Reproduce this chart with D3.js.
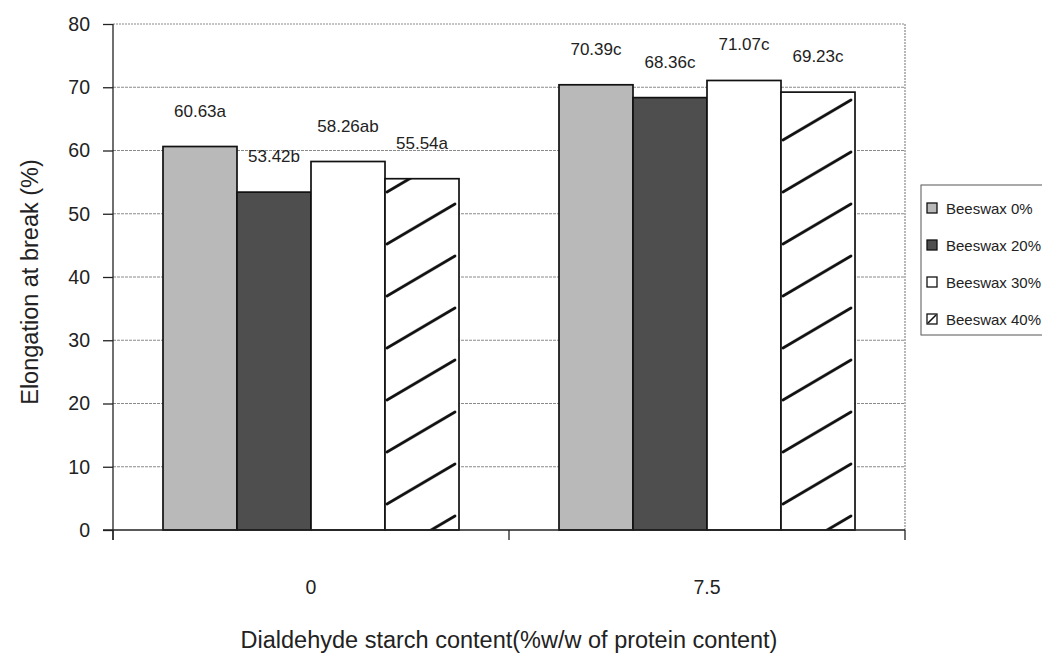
<!DOCTYPE html>
<meta charset="utf-8">
<script src="https://d3js.org/d3.v7.min.js"></script>
<style>
  body { margin: 0; background: #fff; }
  text { font-family: Arial, "Liberation Sans", sans-serif; fill: #222; }
</style>
<div id="chart"></div>
<script>

// data
var categories = ["0", "7.5"];
var series = ["Beeswax 0%", "Beeswax 20%", "Beeswax 30%", "Beeswax 40%"];
var values = [
  [60.63, 53.42, 58.26, 55.54],
  [70.39, 68.36, 71.07, 69.23]
];
var letters = [
  ["a", "b", "ab", "a"],
  ["c", "c", "c", "c"]
];
var yTicks = [0, 10, 20, 30, 40, 50, 60, 70, 80];

var margin = {top: 24, right: 137, bottom: 129, left: 113},
    width = 1042 - margin.left - margin.right,
    height = 659 - margin.top - margin.bottom;

var svg = d3.select("#chart")
  .append("svg")
    .attr("width", 1042)
    .attr("height", 659);

var fills = ["#b9b9b9", "#4e4e4e", "#ffffff", "url(#hatch)"];

var defs = svg.append("defs");

var g = svg.append("g")
    .attr("transform", "translate(" + margin.left + "," + margin.top + ")");

// scales
var x0 = d3.scaleBand()
    .domain(categories)
    .range([0, width])
    .paddingInner(0.2525)
    .paddingOuter(0.12625);

var x1 = d3.scaleBand()
    .domain(series)
    .range([0, x0.bandwidth()]);

var y = d3.scaleLinear()
    .domain([0, 80])
    .range([height, 0]);

// hatch pattern (user space of the group, so it lines up with the 4th bar)
var bw = x1.bandwidth();
var pat = defs.append("pattern")
    .attr("id", "hatch")
    .attr("patternUnits", "userSpaceOnUse")
    .attr("x", x1(series[3]))
    .attr("y", height - 20)
    .attr("width", bw)
    .attr("height", 52);
pat.append("rect").attr("width", bw).attr("height", 52).attr("fill", "#fff");
pat.append("line")
    .attr("x1", 2).attr("y1", 46)
    .attr("x2", bw - 4).attr("y2", 6)
    .attr("stroke", "#111")
    .attr("stroke-width", 2.8)
    .attr("stroke-linecap", "round");

// gridlines
g.selectAll(".grid")
  .data(yTicks.slice(1, -1))
  .enter()
  .append("line")
    .attr("x1", 0)
    .attr("x2", width)
    .attr("y1", function(d) { return y(d); })
    .attr("y2", function(d) { return y(d); })
    .style("stroke", "#8a8a8a")
    .style("stroke-width", 1)
    .style("stroke-dasharray", "3,1");

// plot frame top and right
g.append("path")
    .attr("d", "M0," + y(80) + "H" + width + "V" + height)
    .style("fill", "none")
    .style("stroke", "#8a8a8a")
    .style("stroke-width", 1.2)
    .style("stroke-dasharray", "2,1");

// bars
var groups = g.selectAll(".grp")
  .data(categories)
  .enter()
  .append("g")
    .attr("transform", function(d) { return "translate(" + x0(d) + ",0)"; });

groups.selectAll("rect")
  .data(function(d, i) {
    return series.map(function(s, j) { return {s: s, j: j, v: values[i][j], l: letters[i][j]}; });
  })
  .enter()
  .append("rect")
    .attr("x", function(d) { return x1(d.s); })
    .attr("y", function(d) { return y(d.v); })
    .attr("width", x1.bandwidth())
    .attr("height", function(d) { return height - y(d.v); })
    .style("fill", function(d) { return fills[d.j]; })
    .style("stroke", "#111")
    .style("stroke-width", 1.7);

// value labels
groups.selectAll(".lbl")
  .data(function(d, i) {
    return series.map(function(s, j) { return {s: s, v: values[i][j], l: letters[i][j]}; });
  })
  .enter()
  .append("text")
    .attr("x", function(d) { return x1(d.s) + x1.bandwidth() / 2; })
    .attr("y", function(d) { return y(d.v) - 30; })
    .attr("text-anchor", "middle")
    .style("font-size", "17px")
    .text(function(d) { return d.v.toFixed(2) + d.l; });

// y axis
var yAxis = g.append("g")
    .call(d3.axisLeft(y).tickValues(yTicks).tickSize(10).tickPadding(13));
yAxis.selectAll("text").style("font-size", "19.5px");
yAxis.selectAll("line, path").style("stroke", "#222").style("stroke-width", 1.3);
yAxis.select(".domain").attr("d", "M0,0V" + (height + 10));

// x axis
var xAxis = g.append("g")
    .attr("transform", "translate(0," + height + ")")
    .call(d3.axisBottom(x0).tickSize(0).tickPadding(50));
xAxis.selectAll("text").style("font-size", "19.5px");
xAxis.select(".domain").attr("d", "M-10,0H" + width).style("stroke", "#222").style("stroke-width", 1.3);

xAxis.selectAll(".sep")
  .data([0, x0.step(), width])
  .enter()
  .append("line")
    .attr("x1", function(d) { return d; })
    .attr("x2", function(d) { return d; })
    .attr("y1", 0)
    .attr("y2", 10)
    .style("stroke", "#222")
    .style("stroke-width", 1.3);

// axis titles
svg.append("text")
    .attr("x", margin.left + width / 2)
    .attr("y", 648)
    .attr("text-anchor", "middle")
    .style("font-size", "23.5px")
    .text("Dialdehyde starch content(%w/w of protein content)");

svg.append("text")
    .attr("transform", "translate(38,282) rotate(-90)")
    .attr("text-anchor", "middle")
    .style("font-size", "23.5px")
    .text("Elongation at break (%)");

// legend
var legend = svg.append("g")
    .attr("transform", "translate(921,185)");

legend.append("rect")
    .attr("width", 140)
    .attr("height", 150)
    .style("fill", "#fff")
    .style("stroke", "#555")
    .style("stroke-width", 1);

var item = legend.selectAll(".item")
  .data(series)
  .enter()
  .append("g")
    .attr("transform", function(d, i) { return "translate(6," + (23 + i * 37) + ")"; });

item.append("rect")
    .attr("x", 0)
    .attr("y", -5)
    .attr("width", 10)
    .attr("height", 10)
    .style("fill", function(d, i) { return i == 3 ? "#fff" : fills[i]; })
    .style("stroke", "#111")
    .style("stroke-width", 1.3);

item.filter(function(d, i) { return i == 3; })
  .append("line")
    .attr("x1", 1).attr("y1", 4)
    .attr("x2", 9).attr("y2", -4)
    .style("stroke", "#111")
    .style("stroke-width", 1.6);

item.append("text")
    .attr("x", 19)
    .attr("y", 5.5)
    .style("font-size", "15px")
    .text(function(d) { return d; });

</script>
